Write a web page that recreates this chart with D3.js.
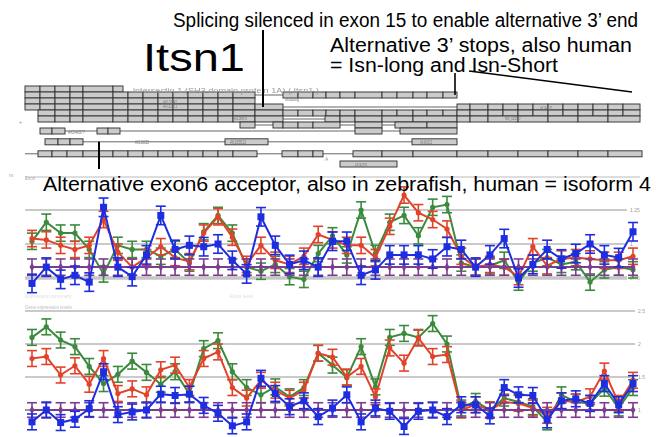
<!DOCTYPE html>
<html><head><meta charset="utf-8">
<script src="https://cdn.jsdelivr.net/npm/d3@7"></script>
<style>body{margin:0;background:#fff}svg{display:block}text{font-family:"Liberation Sans",Arial,sans-serif}</style>
</head><body><svg id="c" width="667" height="437"></svg>
<script>
// ---------- data ----------
const probes = d3.range(1, 44); // 43 exon probes
const p1Green = [1.02,1.16,1.08,1.08,0.96,0.78,0.99,0.96,0.96,0.91,0.96,0.86,1.09,1.21,1.08,0.83,0.80,0.85,0.76,0.74,0.93,1.06,0.92,1.25,0.93,1.16,1.21,1.06,1.27,1.29,0.86,0.83,0.84,0.88,0.72,0.86,0.90,0.85,0.87,0.72,0.81,0.83,0.81];
const p1Red   = [1.04,1.03,0.99,0.96,0.99,1.18,0.94,0.83,0.90,0.98,0.90,0.87,1.08,1.20,1.05,0.85,0.99,0.88,0.85,0.91,1.07,1.03,0.99,0.99,0.90,1.13,1.36,1.23,1.18,1.11,0.91,0.83,0.85,0.83,0.76,0.98,0.84,0.89,0.90,0.89,0.88,0.88,0.91];
const p1Blue  = [0.71,0.83,0.74,0.77,0.72,1.27,0.83,0.76,0.92,1.21,0.96,0.99,0.98,1.00,0.88,0.78,1.20,0.99,0.85,0.88,0.83,1.02,1.02,0.77,0.81,0.92,0.92,0.92,0.89,0.98,0.96,0.83,0.92,1.04,0.75,0.85,0.96,0.89,0.93,1.00,0.92,0.90,1.09];
const p1Purple= [0.83,0.83,0.83,0.83,0.83,0.83,0.83,0.83,0.83,0.83,0.83,0.83,0.83,0.83,0.83,0.83,0.83,0.83,0.83,0.83,0.83,0.83,0.83,0.83,0.83,0.83,0.83,0.83,0.83,0.83,0.83,0.83,0.83,0.83,0.83,0.83,0.83,0.83,0.83,0.83,0.83,0.83,0.83];
const p2Green = [2.10,2.26,2.06,1.96,1.66,1.40,1.54,1.74,1.57,1.39,1.58,1.24,1.93,2.05,1.58,1.34,1.23,1.35,1.20,1.34,1.86,1.68,1.49,1.96,1.35,2.10,2.16,2.10,2.31,2.00,1.03,1.13,1.00,1.18,1.12,1.05,0.82,1.23,1.12,1.10,1.33,1.03,1.34];
const p2Red   = [1.78,1.81,1.53,1.67,1.39,1.78,1.25,1.32,1.23,1.61,1.68,1.34,1.78,1.88,1.34,1.18,1.45,1.30,1.18,1.30,1.86,1.80,1.50,1.66,1.20,1.94,1.71,2.09,1.81,1.84,1.00,1.08,1.00,1.12,1.10,1.03,0.92,1.14,1.12,1.20,1.59,1.10,1.45];
const p2Blue  = [0.82,1.00,0.81,0.86,1.02,1.58,0.93,0.97,1.00,1.24,1.22,1.24,1.07,0.95,0.76,0.82,1.48,1.25,1.05,1.14,0.90,1.03,1.23,0.82,1.03,0.98,0.75,0.98,1.00,0.90,1.08,1.08,0.91,1.34,1.23,1.22,0.85,1.14,1.17,1.10,1.40,1.08,1.40];
const p2Purple= [1.00,1.00,1.00,1.00,1.00,1.00,1.00,1.00,1.00,1.00,1.00,1.00,1.00,1.00,1.00,1.00,1.00,1.00,1.00,1.00,1.00,1.00,1.00,1.00,1.00,1.00,1.00,1.00,1.00,1.00,1.00,1.00,1.00,1.00,1.00,1.00,1.00,1.00,1.00,1.00,1.00,1.00,1.00];
const p1Err = 0.06, p1ErrBlue = 0.068, p2Err = 0.12;
const p1Ticks = [0.75, 1, 1.25];
const p1TickLabels = ["0.75", "1", "1.25"];
const p2Ticks = [1, 1.5, 2, 2.5];
const p2TickLabels = ["1", "1.5", "2", "2.5"];

// gene model (positions in kb, track index)
const transcripts = [
  {t:0, blocks:[[0,3,6,9,11.6,17.6,19.6]]},
  {t:1, blocks:[[0,3,6,9,11.6,17.6,20.6,23.6,26.6,29.6,32.6,35.6,38.6,41.6,46],[51.6,54.6,57.6,60.2,63,66,71.4,74.4,77.6,80.4,83.6,86.4]]},
  {t:2, blocks:[[0,3,6,9,11.6,17.6,20.6,23.6,26.6,29.6,32.6,35.6,38.6,41.6,46]]},
  {t:3, blocks:[[0,3,6,9,11.6,17.6,20.6,23.6,26.6,29.6,32.6,35.6,38.6,41.6,46,51.6],[86.4,89,92.6,95.6,98.6,101.6,104.6,107.6,110.6,113.6,116.6,119.6,123]]},
  {t:4, blocks:[[2.6,6,9,11.6,17.6,20.6,23.6,26.6,29.6,32.6,35.6,38.6,41.6,46,51.6,54.6,57.6,60.2,63,66,71.4,74.4,77.6,80.4,83.6,86.4,89,92.6,95.6,98.6,101.6,104.6,107.6,110.6,113.6,116.6,119.6,123]]},
  {t:5, blocks:[[2.6,6,9,11.6,17.6,20.6,23.6,26.6,29.6,32.6,35.6,38.6,41.6,46,51.6],[60,63,66,71.4,77.6,86.4,89,92.6,98.6,104.6,110.6,116.6,123]]},
  {t:6, blocks:[[43,46],[49.6,51.6,54.6,57.6,63],[66,71.4],[74,80.4,86.4]]},
  {t:7, blocks:[[3,5.4,8],[14.4,16.6,19],[66,71.4],[75,86.4]]},
  {t:8.8, blocks:[[4,6.6,9,11.6],[40,48.6],[77.4,86.4]]},
  {t:10.8, lead:0, blocks:[[2.6,5.4,8.4,11.6,17.6,20.6,23.6,26.6,29.6,32.6,35.6,38.6,41.6,46.4],[51.4,54.6,57.6,59.6],[65.6,71.4,77.6,86.4,92.6,98.6,104.6,110.6,116.6,123.4]]},
  {t:12.5, blocks:[[63,74.4]]}
];
const geneLabels = [
  {kb:21.6, t:0.3, text:"intersectin 1 (SH3 domain protein 1A)  ( Itsn1 )", size:8, len:186, col:"#9a9a9a"},
  {kb:52, t:1.7, text:"Itsn1long", size:5, len:14, col:"#777"},
  {kb:27.6, t:2.1, text:"AK132547", size:5, len:14, col:"#777"},
  {kb:27.6, t:2.9, text:"AF132671", size:5, len:14, col:"#777"},
  {kb:41.6, t:4.8, text:"AK138879", size:5, len:14, col:"#777"},
  {kb:8.6, t:7.1, text:"AK040977", size:5, len:17, col:"#777"},
  {kb:22, t:8.9, text:"AK163025", size:5, len:14, col:"#777"},
  {kb:41, t:8.9, text:"AK165513", size:5, len:16, col:"#777"},
  {kb:79, t:8.9, text:"AK143313", size:5, len:12, col:"#777"},
  {kb:66, t:12.6, text:"AK141053", size:5, len:12, col:"#777"},
  {kb:96, t:4.9, text:"NM_010587", size:5, len:16, col:"#777"},
  {kb:103, t:3.1, text:"AK144937", size:5, len:12, col:"#777"}
];

// ---------- scales ----------
const svg = d3.select("#c");
const defs = svg.append("defs");
defs.append("filter").attr("id","soft").append("feGaussianBlur").attr("stdDeviation",0.55);
defs.append("filter").attr("id","soft2").append("feGaussianBlur").attr("stdDeviation",0.3);

const gx = d3.scaleLinear().domain([0, 123]).range([25, 640]);
const gy = d3.scaleLinear().domain([0, 1]).range([89, 95]);
const x = d3.scaleLinear().domain([1, 43]).range([32, 633]);
const y1 = d3.scaleLinear().domain([0.75, 1.25]).range([278, 210]);
const y2 = d3.scaleLinear().domain([1, 2.5]).range([410, 311]);

// ---------- gene model ----------
const gene = svg.append("g").attr("filter","url(#soft)");
transcripts.forEach(tr => {
  const yy = gy(tr.t);
  const first = tr.blocks[0][0], last = tr.blocks[tr.blocks.length-1].slice(-1)[0];
  gene.append("line").attr("x1", gx(tr.lead !== undefined ? tr.lead : first)).attr("x2", gx(last))
    .attr("y1", yy).attr("y2", yy).attr("stroke","#555").attr("stroke-width",0.9);
  tr.blocks.forEach(b => {
    d3.pairs(b).forEach(([s,e]) => {
      gene.append("rect").attr("x", gx(s)).attr("y", yy-3).attr("width", gx(e)-gx(s)).attr("height", 6)
        .attr("fill","#cbcbcb").attr("stroke","#333").attr("stroke-width",0.95);
    });
  });
});
geneLabels.forEach(l => {
  gene.append("text").attr("x", gx(l.kb)).attr("y", gy(l.t)+2).attr("font-size", l.size)
    .attr("fill", l.col).attr("textLength", l.len).attr("lengthAdjust","spacingAndGlyphs").text(l.text);
});
gene.append("text").attr("x", 19).attr("y", gy(5.8)).attr("font-size",6).attr("fill","#999").text("+");
gene.append("text").attr("x", gx(60)).attr("y", gy(12)).attr("font-size",5).attr("fill","#999").text("A");

// ---------- annotations ----------
const ann = svg.append("g");
ann.append("text").attr("x",173).attr("y",27).attr("font-size",19.5).attr("textLength",465)
  .attr("lengthAdjust","spacingAndGlyphs").text("Splicing silenced in exon 15 to enable alternative 3’ end");
ann.append("text").attr("x",143).attr("y",71).attr("font-size",39).attr("textLength",102)
  .attr("lengthAdjust","spacingAndGlyphs").text("Itsn1");
ann.append("text").attr("x",330).attr("y",52).attr("font-size",19.5).attr("textLength",302)
  .attr("lengthAdjust","spacingAndGlyphs").text("Alternative 3’ stops, also human");
ann.append("text").attr("x",330).attr("y",72).attr("font-size",19.5).attr("textLength",228)
  .attr("lengthAdjust","spacingAndGlyphs").text("= Isn-long and Isn-Short");
ann.append("line").attr("x1",gx(47.6)).attr("x2",gx(47.6)).attr("y1",30).attr("y2",gy(3)).attr("stroke","#000").attr("stroke-width",2);
ann.append("line").attr("x1",gx(86)).attr("x2",gx(86)).attr("y1",73).attr("y2",gy(1)).attr("stroke","#000").attr("stroke-width",1.6);
ann.append("line").attr("x1",gx(88.8)).attr("x2",gx(121.4)).attr("y1",71).attr("y2",92).attr("stroke","#000").attr("stroke-width",1.6);
ann.append("line").attr("x1",gx(14.8)).attr("x2",gx(14.8)).attr("y1",gy(8.8)).attr("y2",169).attr("stroke","#000").attr("stroke-width",2);

// ---------- panels ----------
function panel(ys, ticks, labels, gridEnd, series, lowDark, topY, topEnd) {
  const g = svg.append("g").attr("filter","url(#soft2)");
  g.append("line").attr("x1",25).attr("x2",topEnd).attr("y1",topY).attr("y2",topY).attr("stroke","#bbb").attr("stroke-width",1);
  ticks.forEach((t,i) => {
    const isLow = i === 0;
    g.append("line").attr("x1",25).attr("x2",gridEnd).attr("y1",ys(t)).attr("y2",ys(t))
      .attr("stroke", isLow ? lowDark.color : "#b8b8b8").attr("stroke-width", isLow ? lowDark.width : 1.5);
    g.append("text").attr("x", gridEnd+3).attr("y", ys(t)+2).attr("font-size",5).attr("fill","#999").text(labels[i]);
  });
  series.forEach(s => {
    const line = d3.line().x((d,i) => x(probes[i])).y(d => ys(d));
    g.append("path").datum(s.vals).attr("d", line).attr("fill","none").attr("stroke", s.color).attr("stroke-width",2);
    const eb = g.append("g").attr("stroke", s.color).attr("stroke-width",1.6);
    s.vals.forEach((v,i) => {
      const cx = x(probes[i]), top = ys(v + s.err), bot = ys(v - s.err);
      eb.append("line").attr("x1",cx).attr("x2",cx).attr("y1",top).attr("y2",bot);
      eb.append("line").attr("x1",cx-5).attr("x2",cx+5).attr("y1",top).attr("y2",top);
      eb.append("line").attr("x1",cx-5).attr("x2",cx+5).attr("y1",bot).attr("y2",bot);
    });
    const mk = g.append("g").attr("fill", s.color);
    s.vals.forEach((v,i) => {
      const cx = x(probes[i]), cy = ys(v);
      if (s.marker === "square") mk.append("rect").attr("x",cx-3.5).attr("y",cy-3.5).attr("width",7).attr("height",7);
      else if (s.marker === "diamond") mk.append("path").attr("transform",`translate(${cx},${cy})`).attr("d", d3.symbol(d3.symbolDiamond, 22)());
      else mk.append("circle").attr("cx",cx).attr("cy",cy).attr("r",2.6);
    });
  });
  return g;
}
const C = {green:"#3a8a3c", red:"#e2432b", blue:"#1f2de0", purple:"#7d3e8e"};
const g1 = panel(y1, p1Ticks, p1TickLabels, 627, [
  {vals:p1Green, color:C.green, err:p1Err, marker:"dot"},
  {vals:p1Red, color:C.red, err:p1Err, marker:"dot"},
  {vals:p1Purple, color:C.purple, err:p1Err, marker:"diamond"},
  {vals:p1Blue, color:C.blue, err:p1ErrBlue, marker:"square"}
], {color:"#c6c6c6", width:3.5}, 177, 640);
g1.append("text").attr("x",25).attr("y",180).attr("font-size",4.5).attr("fill","#aaa").text("Exon");
svg.append("text").attr("x",9).attr("y",177).attr("font-size",5).attr("fill","#aaa").text("rs");

const g2 = panel(y2, p2Ticks, p2TickLabels, 635, [
  {vals:p2Green, color:C.green, err:p2Err, marker:"dot"},
  {vals:p2Red, color:C.red, err:p2Err, marker:"dot"},
  {vals:p2Purple, color:C.purple, err:0.11, marker:"diamond"},
  {vals:p2Blue, color:C.blue, err:p2Err, marker:"square"}
], {color:"#777", width:1.5}, 311, 25);
g2.append("text").attr("x",25).attr("y",309).attr("font-size",4.5).attr("fill","#bbb").text("Gene expression levels");
g2.append("text").attr("x",25).attr("y",298).attr("font-size",5).attr("fill","#ddd").text("Expression summary");
g2.append("text").attr("x",230).attr("y",298).attr("font-size",5).attr("fill","#ddd").text("Exon level");

// ---------- main label ----------
svg.append("text").attr("x",43).attr("y",191).attr("font-size",20).attr("textLength",608)
  .attr("lengthAdjust","spacingAndGlyphs").text("Alternative exon6 acceptor, also in zebrafish, human = isoform 4");
</script></body></html>
